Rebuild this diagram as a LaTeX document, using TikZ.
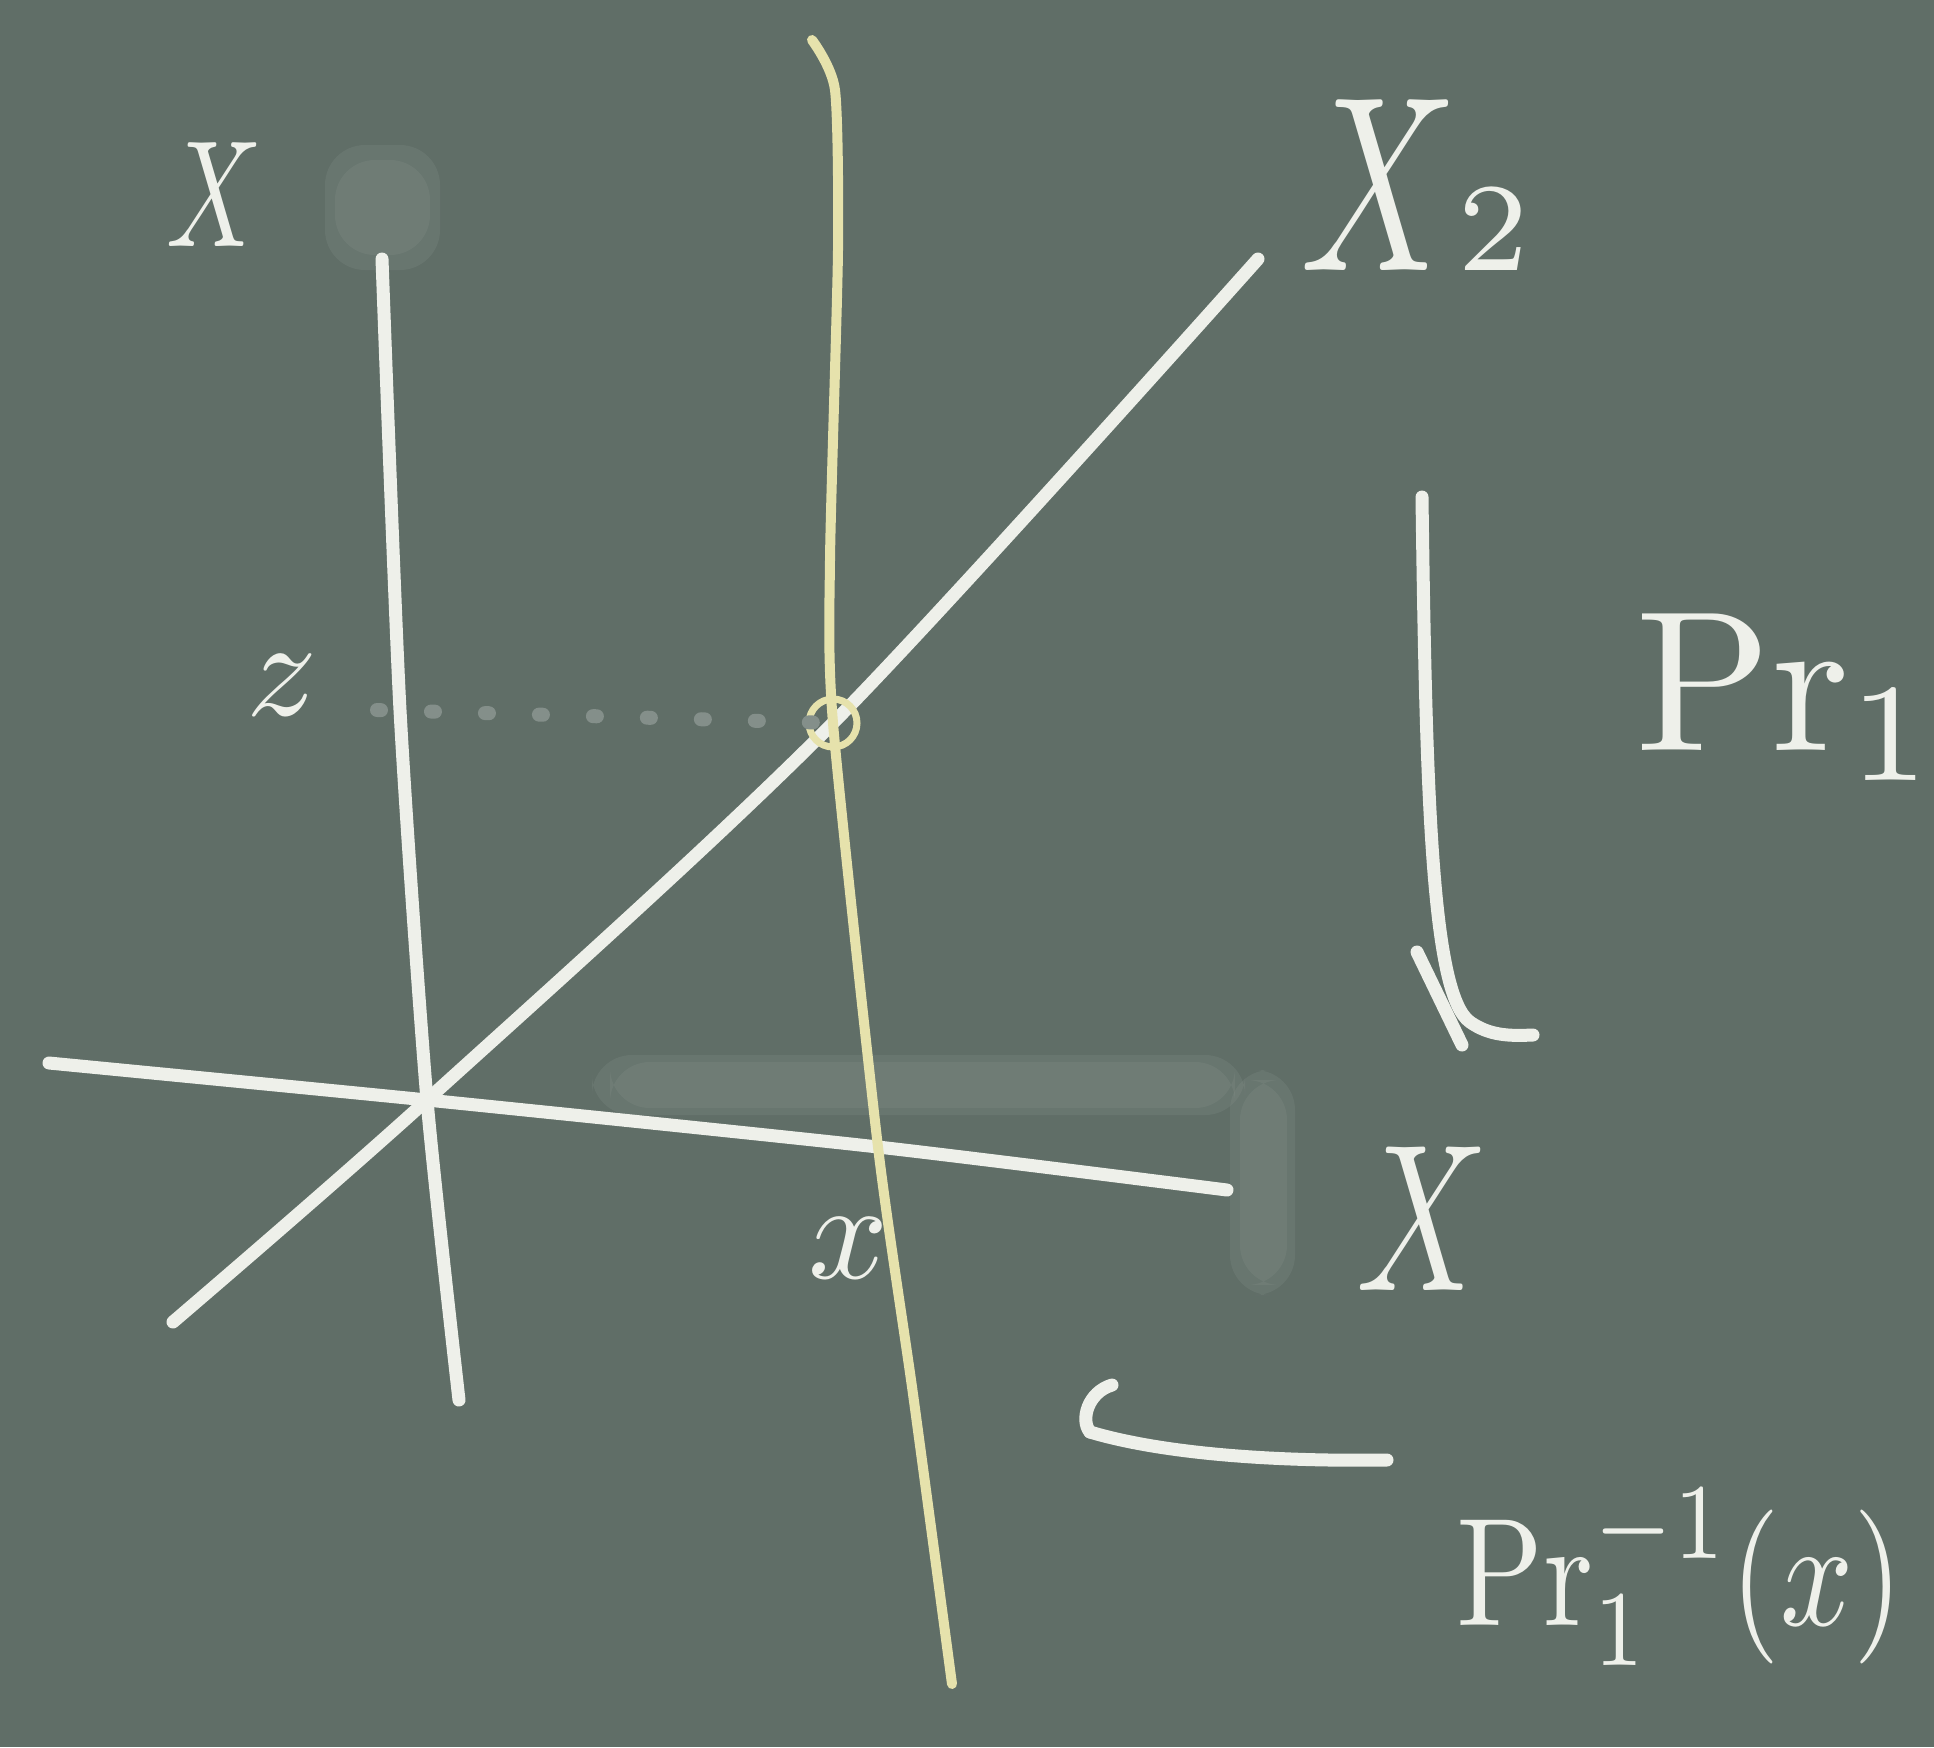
\documentclass[tikz,border=0pt]{standalone}
\usepackage{graphicx}
\usetikzlibrary{arrows.meta}
\definecolor{board}{RGB}{96,110,103}
\definecolor{chalk}{RGB}{238,240,234}
\definecolor{ychalk}{RGB}{230,226,172}
\definecolor{smudge}{RGB}{150,160,154}
\definecolor{dotc}{RGB}{132,143,138}
\tikzset{
  chalkline/.style={draw=chalk, line width=6.5pt, line cap=round, line join=round},
  yline/.style={draw=ychalk, line width=5pt, line cap=round, line join=round},
  lbl/.style={text=chalk, inner sep=0pt, outer sep=0pt},
  smear/.style={fill=smudge, opacity=0.16, rounded corners=20pt},
}
\begin{document}
\begin{tikzpicture}[x=0.5pt,y=-0.5pt]
\fill[board] (0,0) rectangle (1934,1747);
\useasboundingbox (0,0) rectangle (1934,1747);
% erased smudges
\fill[smear] (325,145) rectangle (440,270);
\fill[smear] (335,160) rectangle (430,255);
\fill[smear] (592,1055) rectangle (1245,1115);
\fill[smear] (610,1062) rectangle (1235,1108);
\fill[smear] (1230,1070) rectangle (1295,1295);
\fill[smear] (1240,1080) rectangle (1287,1285);
% key points
\coordinate (O) at (427,1100);
\coordinate (C) at (833,723);
\coordinate (Q) at (878,1147);
% left vertical axis
\draw[chalkline] plot[smooth, tension=0.4] coordinates {(382,259) (400,710) (O) (459,1400)};
% horizontal axis
\draw[chalkline] plot[smooth, tension=0.4] coordinates {(49,1063) (O) (Q) (1227,1190)};
% diagonal
\draw[chalkline] plot[smooth, tension=0.5] coordinates {(173,1322) (O) (C) (1258,259)};
% yellow fibre
\draw[yline] plot[smooth, tension=0.4] coordinates {(812,40) (835,90) (838,250) (830,560) (C) (Q) (913,1394) (952,1684)};
\draw[ychalk, line width=3.5pt] (C) circle[radius=24];
% dotted line
\coordinate (Zl) at (377,710);
\draw[dotc, line width=7pt, line cap=round, dash pattern=on 2pt off 25pt] (Zl) -- (C);
% labels
\node[lbl] (Xtl) at (215,195) {\scalebox{5.3}[7.6]{$X$}};
\node[lbl, anchor=base west] (X2) at (1300,270) {\scalebox{8.7}[12.5]{$X$}\scalebox{9}{$\scriptstyle 2$}};
\node[lbl, anchor=base west] (Pr) at (1635,750) {\scalebox{10}{$\mathrm{Pr}_1$}};
\node[lbl] (Xbr) at (1423,1219) {\scalebox{7.3}[10.5]{$X$}};
\node[lbl] (z) at (282,685) {\scalebox{7}{$z$}};
\node[lbl] (x) at (848,1248) {\scalebox{7}{$x$}};
\node[lbl] (Pinv) at (1680,1577) {\scalebox{6.4}[7.7]{$\mathrm{Pr}_1^{-1}(x)$}};
% Pr_1 arrow (down)
\coordinate (A1) at (1422,497);
\coordinate (A2) at (1533,1035);
\coordinate (A3) at (1417,952);
\coordinate (A4) at (1462,1045);
\draw[chalkline] (A1) .. controls (1426,800) and (1432,995) .. (1470,1022) .. controls (1490,1036) and (1510,1036) .. (A2);
\draw[chalkline] (A3) -- (A4);
% preimage arrow (left)
\coordinate (B1) at (1387,1460);
\coordinate (B2) at (1090,1432);
\coordinate (B3) at (1112,1385);
\draw[chalkline] (B1) .. controls (1250,1462) and (1150,1450) .. (B2);
\draw[chalkline] (B3) .. controls (1088,1392) and (1080,1420) .. (B2);
\end{tikzpicture}
\end{document}
